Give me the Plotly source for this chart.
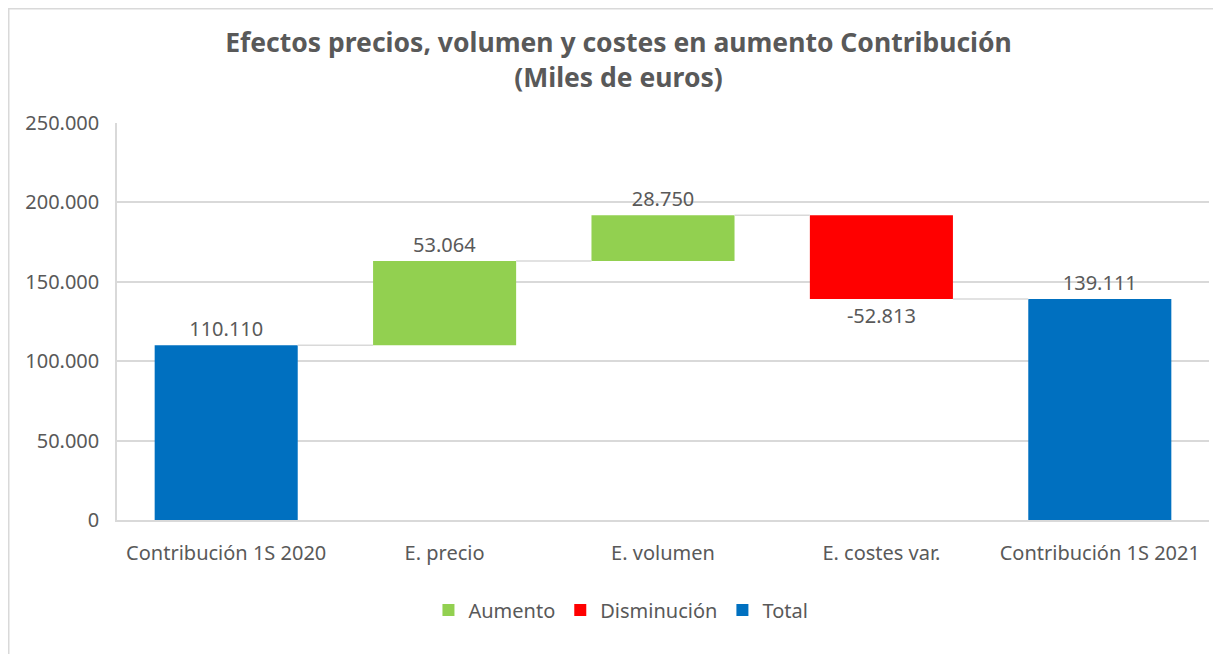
import plotly.graph_objects as go

categories = ["Contribución 1S 2020", "E. precio", "E. volumen", "E. costes var.", "Contribución 1S 2021"]
values = [110110, 53064, 28750, -52813, 139111]
kinds = ["Total", "Aumento", "Aumento", "Disminución", "Total"]
y_ticks = [0, 50000, 100000, 150000, 200000, 250000]

colors = {"Aumento": "#92D050", "Disminución": "#FF0000", "Total": "#0070C0"}
BAR_W = 0.655
TEXT_COLOR = "#595959"
FONT = "Noto Sans"
FS = 20

# running totals
bases = []
ends = []
run = 0
for v, k in zip(values, kinds):
    if k == "Total":
        bases.append(0)
        run = v
        ends.append(v)
    else:
        bases.append(run)
        run = run + v
        ends.append(run)

def fmt(v):
    return f"{v:,}".replace(",", ".")

fig = go.Figure()
for kind in ["Aumento", "Disminución", "Total"]:
    xs, ys, bs, ts = [], [], [], []
    for i, (v, k) in enumerate(zip(values, kinds)):
        if k == kind:
            xs.append(i)
            ys.append(v)
            bs.append(bases[i])
            ts.append(fmt(v))
    fig.add_trace(go.Bar(
        x=xs, y=ys, base=bs, name=kind, width=BAR_W,
        marker=dict(color=colors[kind], line=dict(width=0)),
        text=ts, textposition="outside", cliponaxis=False,
        textfont=dict(family=FONT, size=FS, color=TEXT_COLOR),
        hoverinfo="skip",
    ))

# connectors
for i in range(len(values) - 1):
    fig.add_trace(go.Scatter(
        x=[i + BAR_W / 2, i + 1 - BAR_W / 2], y=[ends[i], ends[i]],
        mode="lines", line=dict(color="#D9D9D9", width=1.5),
        showlegend=False, hoverinfo="skip",
    ))

L, T, PW, PH = 109, 115, 1092, 397
fig.update_layout(
    width=1221, height=654,
    paper_bgcolor="white", plot_bgcolor="white",
    margin=dict(l=L, r=1221 - L - PW, t=T, b=654 - T - PH),
    separators=",.",
    title=dict(
        text="<b>Efectos precios, volumen y costes en aumento Contribución<br>(Miles de euros)</b>",
        x=0.5, xanchor="center", y=0.932, yanchor="top",
        font=dict(family=FONT, size=26.5, color="#595959"),
    ),
    showlegend=True,
    legend=dict(
        orientation="h", x=0.4615, xanchor="center", y=-0.227, yanchor="middle",
        font=dict(family=FONT, size=FS, color=TEXT_COLOR),
        traceorder="normal",
    ),
    barmode="overlay",
    xaxis=dict(
        range=[-0.5, 4.5], tickmode="array", tickvals=list(range(len(categories))),
        ticktext=categories, showgrid=False, zeroline=False,
        showline=True, linecolor="#D9D9D9", linewidth=1.5,
        ticks="outside", ticklen=14, tickcolor="rgba(0,0,0,0)",
        tickfont=dict(family=FONT, size=FS, color=TEXT_COLOR),
    ),
    yaxis=dict(
        range=[0, 250000], tickmode="array", tickvals=y_ticks,
        tickformat=",d", showgrid=True, gridcolor="#D9D9D9", gridwidth=1.5,
        zeroline=False, showline=True, linecolor="#D9D9D9", linewidth=1.5,
        ticks="outside", ticklen=12, tickcolor="rgba(0,0,0,0)",
        tickfont=dict(family=FONT, size=FS, color=TEXT_COLOR),
    ),
    shapes=[dict(
        type="rect", xref="paper", yref="paper",
        x0=-L / PW, x1=1.2, y0=-0.6, y1=(T + PH) / PH,
        line=dict(color="#D9D9D9", width=3), fillcolor="rgba(0,0,0,0)", layer="below",
    )],
)

fig.write_html("out.html")
